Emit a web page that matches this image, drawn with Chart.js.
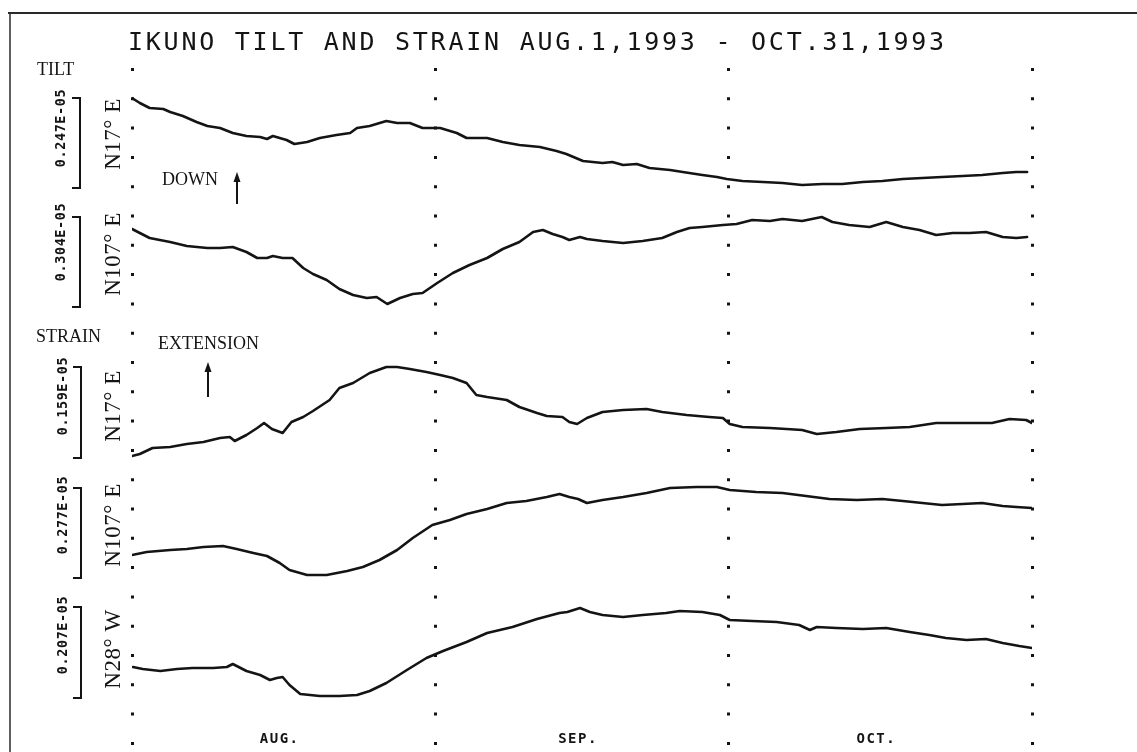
<!DOCTYPE html>
<html><head><meta charset="utf-8">
<script src="https://cdn.jsdelivr.net/npm/chart.js@4.4.1/dist/chart.umd.min.js"></script>
<style>html,body{margin:0;padding:0;background:#fff;}canvas{display:block;}</style>
</head><body>
<canvas id="c" width="1137" height="752"></canvas>
<script>
// ---- data (days since Aug 1, 1993; trace deflection in plot units, up = positive) ----
const monthTicks = [0, 31, 61, 92];
const monthNames = ['AUG.', 'SEP.', 'OCT.'];
const scaleLabels = ['0.247E-05', '0.304E-05', '0.159E-05', '0.277E-05', '0.207E-05'];
const componentLabels = ['N17° E', 'N107° E', 'N17° E', 'N107° E', 'N28° W'];

const tiltN17Days = [0,0.8,1.8,3.2,3.9,5.2,6.6,7.7,9.0,10.3,11.7,13.1,13.8,14.4,15.8,16.6,17.9,19.2,20.9,22.3,23.0,24.3,26.0,27.1,28.4,29.7,31.5,33.2,34.2,36.3,37.9,39.6,41.7,43.4,44.4,46.1,48.1,49.1,50.2,51.6,52.9,55.0,56.3,58.3,59.8,60.8,62.4,64.5,66.5,68.5,70.6,72.6,74.7,76.7,78.8,80.8,82.8,84.9,86.9,89.0,90.4,91.5];
const tiltN17 = [0,-5,-10,-11,-14,-18,-24,-28,-30,-35,-38,-39,-41,-38,-42,-46,-44,-40,-37,-35,-30,-28,-23,-25,-25,-30,-30,-35,-40,-40,-44,-47,-49,-53,-56,-63,-65,-64,-67,-66,-70,-72,-74,-77,-79,-81,-83,-84,-85,-87,-86,-86,-84,-83,-81,-80,-79,-78,-77,-75,-74,-74];

const tiltN107Days = [0,0.8,1.8,3.9,5.6,7.7,9.0,10.3,11.7,12.8,13.8,14.4,15.4,16.4,17.5,18.5,19.9,21.2,22.6,24.0,25.0,26.1,27.4,28.7,29.7,31.2,32.8,34.5,36.3,37.9,39.6,41.0,42.0,43.0,44.0,44.7,45.8,46.5,48.1,50.2,52.2,54.2,55.7,57.0,58.3,60.4,61.8,63.4,65.2,66.5,68.5,70.5,71.6,73.3,75.4,77.1,78.8,80.5,82.2,83.9,85.6,87.3,89.0,90.4,91.5];
const tiltN107 = [0,-4,-9,-13,-17,-19,-19,-18,-23,-29,-29,-27,-29,-29,-39,-45,-51,-60,-66,-69,-68,-75,-69,-65,-64,-54,-44,-36,-29,-20,-13,-3,-1,-5,-8,-11,-8,-10,-12,-14,-12,-9,-3,1,2,4,5,9,8,10,8,12,7,4,2,7,2,-1,-6,-4,-4,-3,-8,-9,-8];

const strainN17Days = [0,0.8,2.1,3.9,5.6,7.3,9.0,10.0,10.5,11.7,12.8,13.5,14.3,15.4,16.3,17.5,18.5,20.2,21.2,22.6,24.3,26.0,27.1,28.4,30.1,31.5,32.8,34.2,35.2,36.3,38.3,39.6,41.4,42.4,44.0,44.7,45.5,46.5,48.1,50.2,52.6,54.2,56.7,59.0,60.4,61.1,62.4,65.2,66.9,68.5,70.0,72.0,74.4,77.1,79.5,82.2,85.6,87.9,89.7,91.4,92.0];
const strainN17 = [0,2,8,9,12,14,18,19,15,21,28,33,27,23,34,39,45,56,68,73,83,89,89,87,84,81,78,73,61,59,56,49,43,40,39,34,32,38,44,46,47,44,41,39,38,32,29,28,27,26,22,24,27,28,29,33,33,33,37,36,33];

const strainN107Days = [0,1.5,3.9,5.6,7.3,9.3,10.7,12.4,13.8,15.1,16.1,17.9,19.9,22.0,23.6,25.3,27.1,28.7,30.7,32.5,34.2,36.3,38.3,40.3,42.4,43.7,44.7,45.6,46.5,48.1,50.2,52.6,55.0,57.7,59.8,61.1,63.8,66.5,68.9,71.3,74.1,76.7,78.8,80.8,82.8,84.9,86.9,89.0,90.4,92.0];
const strainN107 = [0,3,5,6,8,9,6,2,-1,-8,-15,-20,-20,-16,-12,-5,5,17,30,35,41,46,52,54,58,61,58,56,52,55,58,62,67,68,68,65,63,62,59,56,55,56,54,52,50,51,52,49,48,47];

const strainN28WDays = [0.1,1.1,2.9,4.6,6.2,8.3,9.7,10.3,11.7,13.1,14.1,14.8,15.4,16.1,17.2,19.2,21.2,23.0,24.3,26.0,28.1,30.1,31.8,34.2,36.3,38.9,41.4,43.7,44.5,45.8,46.8,48.1,50.2,52.2,54.6,56.0,58.3,60.1,61.1,63.4,65.9,68.2,69.3,70.0,72.0,74.7,77.1,79.5,81.5,83.2,85.3,87.3,89.0,90.7,92.0];
const strainN28W = [0,-2,-4,-2,-1,-1,0,3,-4,-8,-13,-11,-10,-18,-27,-29,-29,-28,-24,-16,-3,9,16,25,34,40,48,54,55,59,55,52,50,52,54,56,55,52,47,46,45,42,37,40,39,38,39,35,32,29,27,28,24,21,19];

// ---- layout (vertical placement of each trace, label geometry) ----
const lanes = [648, 517, 290, 191, 79];
const traces = [
  [tiltN17Days, tiltN17], [tiltN107Days, tiltN107],
  [strainN17Days, strainN17], [strainN107Days, strainN107], [strainN28WDays, strainN28W]
];
const labelGeom = [
  {sx: 60, sy: 128, bx: 80, b0: 98,  b1: 188, cy: 134},
  {sx: 60, sy: 242, bx: 80, b0: 217, b1: 307, cy: 254},
  {sx: 62, sy: 396, bx: 81, b0: 367, b1: 458, cy: 406},
  {sx: 62, sy: 515, bx: 81, b0: 488, b1: 578, cy: 525},
  {sx: 62, sy: 635, bx: 81, b0: 607, b1: 698, cy: 649}
];
const INK = '#141414';

const datasets = traces.map((t, i) => ({
  data: t[0].map((d, k) => ({x: d, y: lanes[i] + t[1][k]})),
  borderColor: INK, borderWidth: 2.6, borderJoinStyle: 'round', borderCapStyle: 'round',
  pointRadius: 0, tension: 0, fill: false
}));

function rotText(ctx, s, cx, cy, font, cap, ls) {
  ctx.save();
  ctx.font = font; ctx.fillStyle = INK;
  try { ctx.letterSpacing = (ls || 0) + 'px'; } catch (e) {}
  ctx.translate(cx + cap / 2, cy);
  ctx.rotate(-Math.PI / 2);
  ctx.textAlign = 'center'; ctx.textBaseline = 'alphabetic';
  ctx.fillText(s, 0, 0);
  ctx.restore();
}
function text(ctx, s, x, y, font, ls, align) {
  ctx.save();
  ctx.font = font; ctx.fillStyle = INK;
  try { ctx.letterSpacing = (ls || 0) + 'px'; } catch (e) {}
  ctx.textAlign = align || 'left'; ctx.textBaseline = 'alphabetic';
  ctx.fillText(s, x, y);
  ctx.restore();
}
function arrow(ctx, x, tip, tail) {
  ctx.save();
  ctx.strokeStyle = INK; ctx.fillStyle = INK; ctx.lineWidth = 2;
  ctx.beginPath(); ctx.moveTo(x, tail); ctx.lineTo(x, tip + 6); ctx.stroke();
  ctx.beginPath(); ctx.moveTo(x, tip); ctx.lineTo(x - 3.5, tip + 10); ctx.lineTo(x + 3.5, tip + 10); ctx.closePath(); ctx.fill();
  ctx.restore();
}

const decor = {
  id: 'decor',
  afterDraw(chart) {
    const ctx = chart.ctx;
    const xs = chart.scales.x;
    // frame
    ctx.save();
    ctx.strokeStyle = '#2a2a2a';
    ctx.lineWidth = 2; ctx.beginPath(); ctx.moveTo(8, 13); ctx.lineTo(1137, 13); ctx.stroke();
    ctx.lineWidth = 1.5; ctx.beginPath(); ctx.moveTo(10, 13); ctx.lineTo(10, 752); ctx.stroke();
    ctx.restore();
    // title
    text(ctx, 'IKUNO TILT AND STRAIN AUG.1,1993 - OCT.31,1993', 128, 50, '25px "DejaVu Sans Mono"', 2.75);
    // group labels
    text(ctx, 'TILT', 37, 75, '18px "Liberation Serif"', 0);
    text(ctx, 'STRAIN', 36, 342, '18px "Liberation Serif"', 0);
    text(ctx, 'DOWN', 162, 185, '18px "Liberation Serif"', 0);
    text(ctx, 'EXTENSION', 158, 349, '18px "Liberation Serif"', 0);
    arrow(ctx, 237, 172, 204);
    arrow(ctx, 208, 362, 397);
    // per-trace scale bars and component labels
    labelGeom.forEach((g, i) => {
      rotText(ctx, scaleLabels[i], g.sx, g.sy, 'bold 13.5px "DejaVu Sans Mono"', 9.8, 0.6);
      rotText(ctx, componentLabels[i], 112, g.cy, '23px "Liberation Serif"', 15.2, 0.5);
      ctx.save();
      ctx.strokeStyle = INK; ctx.lineWidth = 2;
      ctx.beginPath();
      ctx.moveTo(g.bx - 8, g.b0); ctx.lineTo(g.bx, g.b0); ctx.lineTo(g.bx, g.b1); ctx.lineTo(g.bx - 8, g.b1);
      ctx.stroke();
      ctx.restore();
    });
    // month names centred in each month
    monthNames.forEach((m, i) => {
      const mid = (monthTicks[i] + monthTicks[i + 1]) / 2;
      text(ctx, m, xs.getPixelForValue(mid) - 4, 743, 'bold 14px "DejaVu Sans Mono"', 1.5, 'center');
    });
  }
};

new Chart(document.getElementById('c'), {
  type: 'line',
  data: {datasets},
  options: {
    responsive: false, animation: false, events: [],
    layout: {padding: {left: 132, right: 105, top: 68, bottom: 6}},
    plugins: {legend: {display: false}, tooltip: {enabled: false}, title: {display: false}},
    scales: {
      x: {
        type: 'linear', min: 0, max: 92, display: true,
        afterBuildTicks: s => { s.ticks = monthTicks.map(v => ({value: v})); },
        ticks: {display: false},
        grid: {color: INK, lineWidth: 3, drawTicks: false, drawOnChartArea: true},
        border: {display: false, dash: [3, 26.3], dashOffset: 0}
      },
      y: {type: 'linear', min: 0, max: 678, display: false}
    }
  },
  plugins: [decor]
});
</script>
</body></html>
